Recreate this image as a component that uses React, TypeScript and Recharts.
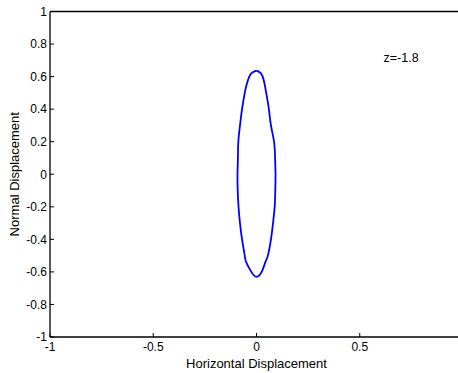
import React from 'react';
import { LineChart, Line, XAxis, YAxis, ReferenceDot } from 'recharts';

// loop: top -> right side down -> bottom -> left side up
const loopX = [
  0, 0.017, 0.03, 0.04, 0.047, 0.06, 0.07, 0.085, 0.09, 0.092, 0.091, 0.088, 0.08, 0.07, 0.055, 0.043, 0.025,
  0, -0.025, -0.05, -0.057, -0.07, -0.08, -0.087, -0.091, -0.092, -0.09, -0.088, -0.08, -0.07, -0.057, -0.048, -0.035, -0.02, 0,
];
const loopY = [
  0.637, 0.625, 0.6, 0.55, 0.5, 0.4, 0.3, 0.2, 0.1, 0, -0.1, -0.2, -0.3, -0.4, -0.5, -0.54, -0.6,
  -0.63, -0.6, -0.54, -0.5, -0.4, -0.3, -0.2, -0.1, 0, 0.1, 0.2, 0.3, 0.4, 0.5, 0.55, 0.6, 0.625, 0.637,
];

// the x = 1 label falls outside the visible window
const xTicks = [-1, -0.5, 0, 0.5];
const xTicksTop = [-1, -0.5, 0, 0.5, 1];
const yTicks = [-1, -0.8, -0.6, -0.4, -0.2, 0, 0.2, 0.4, 0.6, 0.8, 1];

const data = loopX.map((x, i) => ({ x, y: loopY[i] }));

const family = 'Arial, "Liberation Sans", sans-serif';
const tickFont = { fontFamily: family, fontSize: 12, fill: '#000' };
const labelFont = { fontFamily: family, fontSize: 13, fill: '#000' };
const axisLine = { stroke: '#000', strokeWidth: 1.3 };

const App = () => {
  return (
    <div style={{ position: 'absolute', left: 0, top: 0, width: 458, height: 373, overflow: 'hidden', background: '#fff' }}>
      <LineChart width={470} height={373} data={data} margin={{ top: 10.5, right: 0, bottom: 0, left: 0 }}>
        <XAxis
          dataKey="x"
          type="number"
          domain={[-1, 1]}
          ticks={xTicks}
          tickSize={-4}
          tickMargin={9}
          tick={tickFont}
          axisLine={axisLine}
          tickLine={{ stroke: '#000' }}
          height={36}
          allowDataOverflow
          label={{ value: 'Horizontal Displacement', position: 'insideBottom', offset: 5, style: labelFont }}
        />
        <XAxis
          xAxisId="top"
          orientation="top"
          type="number"
          domain={[-1, 1]}
          ticks={xTicksTop}
          tickSize={-4}
          tick={false}
          axisLine={axisLine}
          tickLine={{ stroke: '#000' }}
          height={1}
        />
        <YAxis
          type="number"
          domain={[-1, 1]}
          ticks={yTicks}
          tickSize={-4}
          tickMargin={7}
          tick={tickFont}
          axisLine={axisLine}
          tickLine={{ stroke: '#000' }}
          width={50}
          allowDataOverflow
          label={{ value: 'Normal Displacement', angle: -90, position: 'insideLeft', offset: 14, style: { ...labelFont, textAnchor: 'middle' } }}
        />
        <YAxis
          yAxisId="right"
          orientation="right"
          type="number"
          domain={[-1, 1]}
          ticks={yTicks}
          tickSize={-4}
          tick={false}
          axisLine={axisLine}
          tickLine={{ stroke: '#000' }}
          width={7}
        />
        <ReferenceDot
          x={0.7}
          y={0.72}
          r={0}
          label={{ value: 'z=-1.8', position: 'center', style: { ...tickFont, fontSize: 12.5 } }}
        />
        <Line
          dataKey="y"
          stroke="#0000ff"
          strokeWidth={1.8}
          dot={false}
          type="natural"
          isAnimationActive={false}
        />
      </LineChart>
    </div>
  );
};

export default App;
